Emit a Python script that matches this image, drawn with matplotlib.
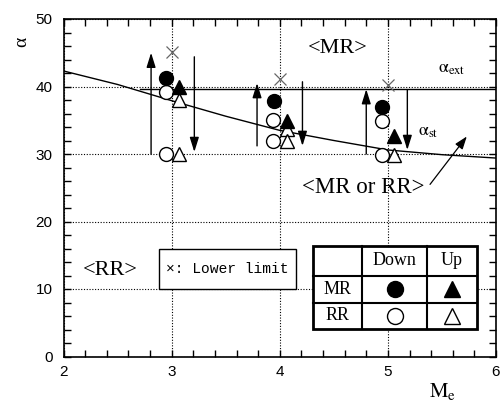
import matplotlib
matplotlib.use("Agg")
import matplotlib.pyplot as plt
from matplotlib.patches import Rectangle
from matplotlib.ticker import MultipleLocator

plt.rcParams['mathtext.fontset'] = 'stix'
plt.rcParams['font.family'] = ['Liberation Sans', 'DejaVu Sans']

# ---- data ----
# alpha_st criterion curve
M_st = [2.0, 2.5, 3.0, 3.5, 4.0, 4.5, 5.0, 5.5, 6.0]
a_st = [42.3, 40.3, 37.9, 35.6, 33.5, 32.0, 30.6, 29.9, 29.4]
# alpha_ext line
M_ext = [2.71, 6.0]
a_ext = [39.6, 39.6]
# lower limit (x)
M_ll = [3.0, 4.0, 5.0]
a_ll = [45.1, 41.1, 40.2]
# MR Down (filled circle)
M_mr_down = [2.95, 3.95, 4.95]
a_mr_down = [41.2, 37.9, 37.0]
# MR Up (filled triangle)
M_mr_up = [3.07, 4.07, 5.06]
a_mr_up = [40.0, 34.9, 32.6]
# RR Down (open circle)
M_rr_down = [2.95, 2.95, 3.94, 3.94, 4.95, 4.95]
a_rr_down = [39.2, 30.0, 35.0, 31.9, 34.9, 29.9]
# RR Up (open triangle)
M_rr_up = [3.07, 3.07, 4.07, 4.07, 5.06]
a_rr_up = [38.0, 30.0, 33.7, 31.9, 29.8]
# arrows (up / down sweeps)
M_arr_up = [2.81, 3.79, 4.80]
a_arr_up_from = [30.0, 31.2, 30.0]
a_arr_up_to = [45.0, 40.5, 39.6]
M_arr_dn = [3.21, 4.21, 5.18]
a_arr_dn_from = [44.4, 40.7, 39.5]
a_arr_dn_to = [30.3, 31.2, 30.6]

serif = ['Liberation Serif', 'DejaVu Serif']

fig = plt.figure(figsize=(5.0, 4.04), dpi=100)
ax = fig.add_axes([63.5/500, 1-356.5/404, (496-63.5)/500, (356.5-19)/404])
ax.set_xlim(2, 6)
ax.set_ylim(0, 50)

ax.xaxis.set_major_locator(MultipleLocator(1))
ax.xaxis.set_minor_locator(MultipleLocator(0.2))
ax.yaxis.set_major_locator(MultipleLocator(10))
ax.yaxis.set_minor_locator(MultipleLocator(2))
ax.tick_params(which='both', direction='in', top=True, right=True,
               length=5, width=1, labelsize=11)
ax.tick_params(axis='x', pad=6)
ax.tick_params(axis='y', pad=8)
for s in ax.spines.values():
    s.set_linewidth(1.2)

ax.grid(True, which='major', color='k', linestyle=(0, (1, 1.5)), linewidth=0.8)

# curves
ax.plot(M_st, a_st, color='k', lw=1.0, zorder=3)
ax.plot(M_ext, a_ext, color='k', lw=1.0, zorder=3)

arrow_kw = dict(arrowstyle='-|>,head_length=0.8,head_width=0.25', color='k', lw=1.0,
                mutation_scale=11, shrinkA=0, shrinkB=0)
# arrows
for x, y0, y1 in zip(M_arr_up, a_arr_up_from, a_arr_up_to):
    ax.annotate('', xy=(x, y1), xytext=(x, y0), arrowprops=arrow_kw, zorder=3)
for x, y0, y1 in zip(M_arr_dn, a_arr_dn_from, a_arr_dn_to):
    ax.annotate('', xy=(x, y1), xytext=(x, y0), arrowprops=arrow_kw, zorder=3)

# markers
ax.plot(M_ll, a_ll, 'x', color='0.4', ms=9, mew=0.9, zorder=4)
ax.plot(M_rr_down, a_rr_down, 'o', mfc='white', mec='k', mew=1.0, ms=10, ls='none', zorder=4)
ax.plot(M_rr_up, a_rr_up, '^', mfc='white', mec='k', mew=1.0, ms=9.5, ls='none', zorder=4)
ax.plot(M_mr_down, a_mr_down, 'o', color='k', ms=10, ls='none', zorder=5)
ax.plot(M_mr_up, a_mr_up, '^', color='k', ms=9.5, ls='none', zorder=5)

# region texts
ax.text(4.54, 45.7, '<MR>', family=serif, fontsize=16, ha='center', va='center')
ax.text(2.43, 12.8, '<RR>', family=serif, fontsize=16, ha='center', va='center')
ax.text(4.77, 25.0, '<MR or RR>', family=serif, fontsize=16.5, ha='center', va='center', zorder=6)
ax.text(5.46, 42.7, r'$\mathrm{\alpha_{ext}}$', fontsize=13, ha='left', va='center')
ax.text(5.28, 33.3, r'$\mathrm{\alpha_{st}}$', fontsize=13, ha='left', va='center')
ax.annotate('', xy=(5.73, 32.6), xytext=(5.39, 25.5),
            arrowprops=dict(arrowstyle='-|>,head_length=0.7,head_width=0.25', color='k', lw=0.9,
                            mutation_scale=11, shrinkA=0, shrinkB=0))

# lower limit box
ax.add_patch(Rectangle((2.883, 10.0), 4.148-2.883, 15.93-10.0, facecolor='white',
                       edgecolor='k', lw=1.0, zorder=6))
ax.text(3.515, 12.96, '×: Lower limit', family=['Liberation Mono', 'DejaVu Sans Mono'],
        fontsize=10.5, ha='center', va='center', zorder=7)

# legend table
xe = [4.311, 4.764, 5.360, 5.822]
ye = [16.41, 11.97, 7.97, 4.03]
ax.add_patch(Rectangle((xe[0], ye[3]), xe[3]-xe[0], ye[0]-ye[3], facecolor='white',
                       edgecolor='k', lw=2.0, zorder=6))
for x in xe[1:3]:
    ax.plot([x, x], [ye[3], ye[0]], color='k', lw=1.5, zorder=7)
for y in ye[1:3]:
    ax.plot([xe[0], xe[3]], [y, y], color='k', lw=1.5, zorder=7)
cx = [(xe[i]+xe[i+1])/2 for i in range(3)]
cy = [(ye[i]+ye[i+1])/2 for i in range(3)]
ax.text(cx[1], cy[0], 'Down', family=serif, fontsize=13, ha='center', va='center', zorder=8)
ax.text(cx[2], cy[0], 'Up', family=serif, fontsize=13, ha='center', va='center', zorder=8)
ax.text(cx[0], cy[1], 'MR', family=serif, fontsize=13, ha='center', va='center', zorder=8)
ax.text(cx[0], cy[2], 'RR', family=serif, fontsize=13, ha='center', va='center', zorder=8)
ax.plot([cx[1]], [cy[1]], 'o', color='k', ms=11.5, zorder=8)
ax.plot([cx[2]], [cy[1]], '^', color='k', ms=12, zorder=8)
ax.plot([cx[1]], [cy[2]], 'o', mfc='white', mec='k', mew=1.0, ms=11.5, zorder=8)
ax.plot([cx[2]], [cy[2]], '^', mfc='white', mec='k', mew=1.0, ms=12, zorder=8)

# axis labels
fig.text(22/500, 1-42/404, 'α', family=serif, fontsize=14, rotation=90, ha='center', va='center')
fig.text(443/500, 1-392/404, r'$\mathrm{M_e}$', fontsize=15, ha='center', va='center')

fig.savefig('out.png', dpi=100)
